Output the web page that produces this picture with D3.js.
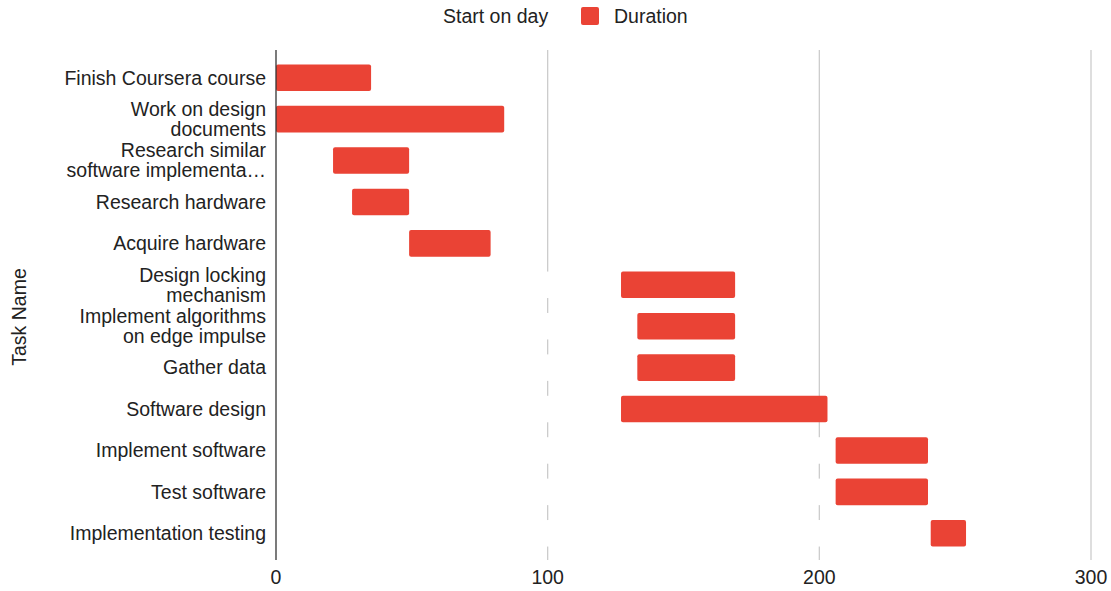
<!DOCTYPE html>
<html>
<head>
<meta charset="utf-8">
<script src="https://cdn.jsdelivr.net/npm/d3@7"></script>
<style>
  body { margin: 0; background: #fff; }
  text { font-family: Arial, "Liberation Sans", sans-serif; }
</style>
</head>
<body>
<div id="chart"></div>
<script>
// task names (two-line labels split with \n)
var tasks = [
    "Finish Coursera course",
    "Work on design\ndocuments",
    "Research similar\nsoftware implementa\u2026",
    "Research hardware",
    "Acquire hardware",
    "Design locking\nmechanism",
    "Implement algorithms\non edge impulse",
    "Gather data",
    "Software design",
    "Implement software",
    "Test software",
    "Implementation testing"
];
var startDay = [0, 0, 21, 28, 49, 127, 133, 133, 127, 206, 206, 241];
var duration = [35, 84, 28, 21, 30, 42, 36, 36, 76, 34, 34, 13];
var xTicks = [0, 100, 200, 300];

var W = 1111, H = 591;
var margin = { top: 57, right: 20, bottom: 37, left: 276 };
var width = 1091 - margin.left;
var height = H - margin.top - margin.bottom;
var fs = "19.5px";

var svg = d3.select("#chart").append("svg")
    .attr("width", W)
    .attr("height", H);

var x = d3.scaleLinear().domain([0, 300]).range([0, width]);
var y = d3.scaleBand().domain(d3.range(tasks.length)).range([0, height]).paddingInner(0.36).paddingOuter(0.18);

var g = svg.append("g")
    .attr("transform", "translate(" + margin.left + "," + margin.top + ")");

// gridlines
g.selectAll(".grid")
    .data(xTicks.slice(1))
    .enter().append("line")
    .attr("x1", function(d) { return x(d); })
    .attr("x2", function(d) { return x(d); })
    .attr("y1", -7)
    .attr("y2", height + 6)
    .attr("stroke", "#cccccc")
    .attr("stroke-width", 1.3);

// start bars are white, they hide the gridlines like the original
g.selectAll(".start")
    .data(startDay)
    .enter().append("rect")
    .attr("x", 0)
    .attr("y", function(d, i) { return y(i); })
    .attr("width", function(d) { return x(d); })
    .attr("height", y.bandwidth())
    .attr("fill", "#ffffff");

g.selectAll(".dur")
    .data(duration)
    .enter().append("rect")
    .attr("x", function(d, i) { return x(startDay[i]); })
    .attr("y", function(d, i) { return y(i); })
    .attr("width", function(d) { return x(d); })
    .attr("height", y.bandwidth())
    .attr("rx", 2)
    .attr("fill", "#ea4335");

// baseline
g.append("line")
    .attr("x1", 0).attr("x2", 0)
    .attr("y1", -7).attr("y2", height + 6)
    .attr("stroke", "#333")
    .attr("stroke-width", 1.3);

// x tick labels
g.selectAll(".xtick")
    .data(xTicks)
    .enter().append("text")
    .attr("x", function(d) { return x(d); })
    .attr("y", height + 30)
    .attr("text-anchor", "middle")
    .style("font-size", fs)
    .style("fill", "#222")
    .text(function(d) { return d; });

// y labels
var lab = g.selectAll(".ylab")
    .data(tasks)
    .enter().append("text")
    .attr("text-anchor", "end")
    .style("font-size", fs)
    .style("fill", "#222")
    .attr("transform", function(d, i) {
        return "translate(-10," + (y(i) + y.bandwidth() / 2) + ")";
    });
lab.each(function(d) {
    var lines = d.split("\n");
    var t = d3.select(this);
    lines.forEach(function(s, k) {
        t.append("tspan")
            .attr("x", 0)
            .attr("y", (k - (lines.length - 1) / 2) * 20)
            .attr("dy", "0.35em")
            .text(s);
    });
});

// axis title
svg.append("text")
    .attr("transform", "translate(26,317) rotate(-90)")
    .attr("text-anchor", "middle")
    .style("font-size", fs)
    .style("fill", "#222")
    .text("Task Name");

// legend
var legend = svg.append("g");
legend.append("text")
    .attr("x", 443).attr("y", 23)
    .style("font-size", fs).style("fill", "#222")
    .text("Start on day");
legend.append("rect")
    .attr("x", 581).attr("y", 7)
    .attr("width", 18).attr("height", 18)
    .attr("rx", 2)
    .attr("fill", "#ea4335");
legend.append("text")
    .attr("x", 614).attr("y", 23)
    .style("font-size", fs).style("fill", "#222")
    .text("Duration");
</script>
</body>
</html>
